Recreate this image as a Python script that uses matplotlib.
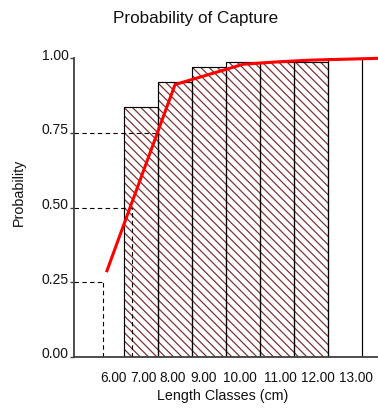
import matplotlib
matplotlib.use("Agg")
import matplotlib.pyplot as plt
from matplotlib.transforms import ScaledTranslation

plt.rcParams['font.family'] = ['Liberation Sans', 'DejaVu Sans']
plt.rcParams['hatch.linewidth'] = 0.9

# ---- data ----
length_classes = [7, 8, 9, 10, 11, 12, 13]
observed_prob = [0.837, 0.919, 0.972, 0.986, 0.988, 0.988, 1.000]
hatched = [True, True, True, True, True, True, False]

curve_x = [6, 7, 8, 9, 10, 11, 12, 13, 14]
curve_p = [0.288, 0.600, 0.912, 0.946, 0.980, 0.988, 0.994, 0.997, 1.000]

levels = [0.25, 0.50, 0.75]
level_lengths = [5.875, 6.727, 7.514]

xtick_labels = ["6.00", "7.00", "8.00", "9.00", "10.00", "11.00", "12.00", "13.00"]
xtick_pos = [6.18, 7.06, 7.94, 8.85, 9.91, 11.08, 12.20, 13.32]
ytick_vals = [0.0, 0.25, 0.50, 0.75, 1.00]
ytick_labels = ["0.00", "0.25", "0.50", "0.75", "1.00"]

# ---- figure ----
W, H, DPI = 378, 408, 100
fig = plt.figure(figsize=(W / DPI, H / DPI), dpi=DPI)
ax = fig.add_axes([74 / W, (H - 356.7) / H, (W - 74) / W, 298.4 / H])
ax.set_xlim(5.032, 13.962)
ax.set_ylim(0, 1)

hatch_col = '#7a3535'
for x, p, h in zip(length_classes, observed_prob, hatched):
    if h:
        ax.bar(x, p, width=1.0, color='white', edgecolor=hatch_col,
               hatch='\\\\\\\\', linewidth=0, zorder=1)
    else:
        ax.bar(x, p, width=1.0, color='white', linewidth=0, zorder=1)
ax.bar(length_classes, observed_prob, width=1.0, fill=False,
       edgecolor='black', linewidth=0.85, zorder=2)

x0 = ax.get_xlim()[0]
for lv, L in zip(levels, level_lengths):
    ax.plot([x0, L], [lv, lv], color='black', lw=0.8,
            linestyle=(0, (4, 3)), zorder=3)
    ax.plot([L, L], [0, lv], color='black', lw=0.8,
            linestyle=(0, (4, 3)), zorder=3)

ax.plot(curve_x, curve_p, color='#ff0000', lw=2.2, zorder=4,
        clip_on=False, solid_joinstyle='round')

for s in ['top', 'right']:
    ax.spines[s].set_visible(False)
for s in ['left', 'bottom']:
    ax.spines[s].set_color('#404040')
    ax.spines[s].set_linewidth(1.3)
    ax.spines[s].set_zorder(5)

ax.set_yticks(ytick_vals)
ax.set_yticklabels(ytick_labels)
ax.tick_params(axis='y', length=3, width=1.0, color='#404040',
               pad=1, labelsize=10, labelcolor='#111111')
for lab in ax.get_yticklabels():
    lab.set_va('baseline')
    lab.set_transform(lab.get_transform() + ScaledTranslation(0, -1.5 / DPI, fig.dpi_scale_trans))

ax.set_xticks(xtick_pos)
ax.set_xticklabels(xtick_labels)
ax.tick_params(axis='x', length=0, pad=10, labelsize=9.8, labelcolor='#111111')

fig.text(196 / W, 1 - 19 / H, "Probability of Capture", ha='center',
         va='center', fontsize=12.3, color='#111111')
fig.text(223 / W, 1 - 396 / H, "Length Classes (cm)", ha='center',
         va='center', fontsize=10.3, color='#111111')
fig.text(19 / W, 1 - 192 / H, "Probability", ha='center', va='center',
         rotation=90, fontsize=10.3, color='#111111')

fig.savefig("out.png", dpi=DPI)
